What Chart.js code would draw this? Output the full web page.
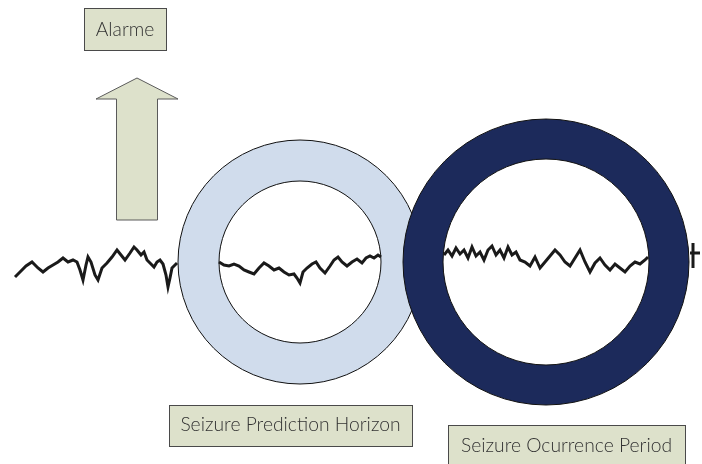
<!DOCTYPE html>
<html>
<head>
<meta charset="utf-8">
<script src="https://cdn.jsdelivr.net/npm/chart.js@4"></script>
<style>
    html, body { margin: 0; padding: 0; background: #ffffff; }
    canvas { display: block; }
</style>
</head>
<body>
<canvas id="diagrama" width="702" height="464"></canvas>
<script>
// DADOS
var rotulos = ['Alarme', 'Seizure Prediction Horizon', 'Seizure Ocurrence Period'];

// sinal de EEG (tempo, amplitude), em trechos visiveis
var trecho1Tempo = [15, 20, 26, 32, 38, 43, 48, 53, 58, 63, 68, 73, 77, 80, 83, 86, 88, 91, 95, 98, 102, 107, 112, 117, 121, 125, 130, 134, 137, 141, 144, 147, 150, 154, 157, 160, 163, 166, 168, 170, 172, 175, 177];
var trecho1Amplitude = [277, 272, 266, 262, 268, 272, 268, 265, 262, 258, 262, 260, 262, 270, 280, 265, 257, 262, 275, 280, 268, 263, 257, 250, 255, 260, 253, 247, 250, 255, 252, 260, 263, 267, 262, 260, 264, 275, 287, 278, 268, 265, 263];
var trecho2Tempo = [219, 224, 229, 234, 239, 244, 249, 254, 259, 264, 269, 274, 279, 284, 289, 294, 297, 300, 303, 307, 312, 316, 320, 325, 330, 334, 338, 342, 347, 352, 357, 362, 366, 370, 374, 378, 381];
var trecho2Amplitude = [262, 265, 266, 264, 266, 270, 272, 274, 268, 263, 266, 270, 268, 272, 275, 274, 278, 283, 272, 268, 264, 262, 268, 273, 266, 260, 257, 262, 266, 262, 259, 263, 258, 256, 258, 255, 257];
var trecho3Tempo = [444, 448, 452, 456, 460, 464, 468, 472, 476, 480, 484, 488, 492, 496, 500, 504, 508, 512, 516, 520, 525, 530, 535, 540, 545, 550, 555, 560, 565, 570, 575, 580, 585, 590, 595, 600, 605, 610, 615, 620, 625, 630, 635, 640, 645, 648];
var trecho3Amplitude = [255, 250, 256, 248, 254, 250, 258, 247, 256, 252, 260, 250, 246, 255, 250, 258, 247, 255, 252, 260, 262, 266, 257, 268, 262, 256, 250, 255, 262, 266, 258, 250, 262, 272, 263, 258, 265, 270, 264, 268, 272, 266, 262, 264, 260, 257];
var trecho4Tempo = [690, 693, 693, 693, 693, 700];
var trecho4Amplitude = [253, 253, 243, 268, 253, 253];

// janelas (centro no tempo, nivel do sinal)
var janelaCentro = [300, 546];
var janelaNivel = [262, 262];

// FUNCOES
function montarSinal() {
    var trechos = [
        [trecho1Tempo, trecho1Amplitude],
        [trecho2Tempo, trecho2Amplitude],
        [trecho3Tempo, trecho3Amplitude],
        [trecho4Tempo, trecho4Amplitude]
    ];
    var pontos = [];
    for (var i = 0; i < trechos.length; i++) {
        if (i > 0) {
            // lacuna onde o anel cobre o sinal
            pontos.push({ x: trechos[i][0][0] - 1, y: null });
        }
        for (var j = 0; j < trechos[i][0].length; j++) {
            pontos.push({ x: trechos[i][0][j], y: trechos[i][1][j] });
        }
    }
    return pontos;
}

var caixas = [
    { esq: 84, topo: 8, larg: 82, alt: 42, base: 36 },
    { esq: 169, topo: 405, larg: 243, alt: 41, base: 431 },
    { esq: 448, topo: 425, larg: 237, alt: 50, base: 452 }
];

var seta = { x: 137, fundo: 220, ombro: 99, ponta: 78, meiaHaste: 20.5, meiaCabeca: 41 };

var desenhos = {
    id: 'desenhos',
    beforeDatasetsDraw: function (chart) {
        var ctx = chart.ctx;
        var sx = chart.scales.x;
        var sy = chart.scales.y;
        var cx = sx.getPixelForValue(seta.x);
        ctx.save();
        ctx.beginPath();
        ctx.moveTo(sx.getPixelForValue(seta.x - seta.meiaHaste), sy.getPixelForValue(seta.fundo));
        ctx.lineTo(sx.getPixelForValue(seta.x + seta.meiaHaste), sy.getPixelForValue(seta.fundo));
        ctx.lineTo(sx.getPixelForValue(seta.x + seta.meiaHaste), sy.getPixelForValue(seta.ombro));
        ctx.lineTo(sx.getPixelForValue(seta.x + seta.meiaCabeca), sy.getPixelForValue(seta.ombro));
        ctx.lineTo(cx, sy.getPixelForValue(seta.ponta));
        ctx.lineTo(sx.getPixelForValue(seta.x - seta.meiaCabeca), sy.getPixelForValue(seta.ombro));
        ctx.lineTo(sx.getPixelForValue(seta.x - seta.meiaHaste), sy.getPixelForValue(seta.ombro));
        ctx.closePath();
        ctx.fillStyle = '#DDE1CB';
        ctx.fill();
        ctx.strokeStyle = '#5a5a5a';
        ctx.lineWidth = 1;
        ctx.stroke();
        ctx.restore();
    },
    afterDatasetsDraw: function (chart) {
        var ctx = chart.ctx;
        var sx = chart.scales.x;
        var sy = chart.scales.y;
        ctx.save();
        for (var i = 0; i < caixas.length; i++) {
            var c = caixas[i];
            var x0 = sx.getPixelForValue(c.esq);
            var y0 = sy.getPixelForValue(c.topo);
            var x1 = sx.getPixelForValue(c.esq + c.larg);
            var y1 = sy.getPixelForValue(c.topo + c.alt);
            ctx.fillStyle = '#DDE1CB';
            ctx.fillRect(x0 + 0.5, y0 + 0.5, x1 - x0, y1 - y0);
            ctx.strokeStyle = '#4a4a4a';
            ctx.lineWidth = 1;
            ctx.strokeRect(x0 + 0.5, y0 + 0.5, x1 - x0, y1 - y0);
            ctx.fillStyle = '#333333';
            ctx.font = '300 19.3px Lato, "Open Sans", sans-serif';
            ctx.textAlign = 'center';
            ctx.textBaseline = 'alphabetic';
            ctx.fillText(rotulos[i], (x0 + x1) / 2, sy.getPixelForValue(c.base));
        }
        ctx.restore();
    }
};

var ctx = document.getElementById('diagrama').getContext('2d');
var grafico = new Chart(ctx, {
    type: 'bubble',
    data: {
        datasets: [{
            type: 'line',
            label: 'EEG',
            data: montarSinal(),
            borderColor: '#1a1a1a',
            borderWidth: 3,
            pointRadius: 0,
            tension: 0,
            spanGaps: false,
            clip: false,
            order: 0
        }, {
            label: 'Janelas',
            data: [
                { x: janelaCentro[0], y: janelaNivel[0], r: 122 },
                { x: janelaCentro[0], y: janelaNivel[0], r: 81 },
                { x: janelaCentro[1], y: janelaNivel[1], r: 143 },
                { x: janelaCentro[1], y: janelaNivel[1], r: 103 }
            ],
            backgroundColor: ['#D0DCEC', '#ffffff', '#1C2A5B', '#ffffff'],
            borderColor: '#111111',
            borderWidth: 1,
            clip: false,
            order: 1
        }]
    },
    options: {
        responsive: false,
        animation: false,
        events: [],
        layout: { padding: 0, autoPadding: false },
        plugins: {
            legend: { display: false },
            tooltip: { enabled: false }
        },
        scales: {
            x: { type: 'linear', min: 0, max: 702, display: false },
            y: { type: 'linear', min: 0, max: 464, reverse: true, display: false }
        }
    },
    plugins: [desenhos]
});
</script>
</body>
</html>
